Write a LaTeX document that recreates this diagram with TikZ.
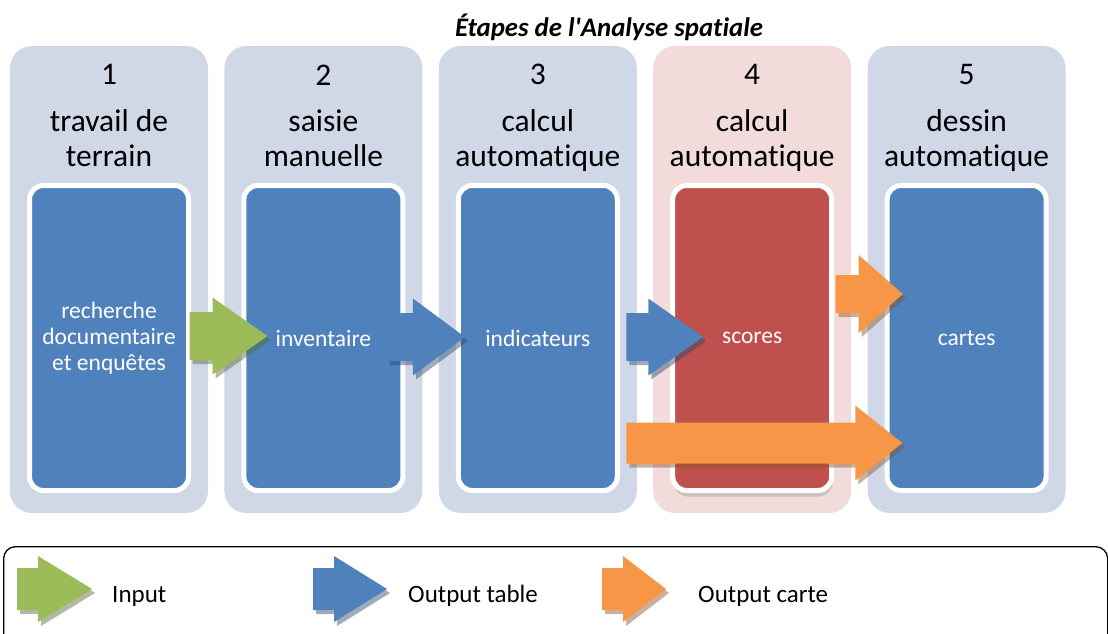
\documentclass[tikz,border=0pt]{standalone}
\usepackage{fontspec}
\setmainfont{Carlito}[Ligatures={TeX,NoCommon}]
\usetikzlibrary{positioning,calc,shadows}

\definecolor{colbg}{HTML}{D0D8E8}
\definecolor{colpink}{HTML}{F2DCDB}
\definecolor{boxblue}{HTML}{4F81BD}
\definecolor{boxred}{HTML}{C0504D}
\definecolor{arrgreen}{HTML}{9BBB59}
\definecolor{arrorange}{HTML}{F79646}

% block arrow: colour, tail, length, half shaft, half head, head length
\newcommand{\blockarr}[6]{%
  \begin{scope}[shift={#2}]
    \fill[#1!55!black, opacity=0.45, shift={(3,4)}] (0,-#4) -- ({#3-#6},-#4) -- ({#3-#6},-#5) -- (#3,0) -- ({#3-#6},#5) -- ({#3-#6},#4) -- (0,#4) -- cycle;
    \fill[#1] (0,-#4) -- ({#3-#6},-#4) -- ({#3-#6},-#5) -- (#3,0) -- ({#3-#6},#5) -- ({#3-#6},#4) -- (0,#4) -- cycle;
  \end{scope}}

\tikzset{
  stepcol/.style={rectangle, rounded corners=22pt, fill=colbg, minimum width=198pt, minimum height=467pt, inner sep=0pt},
  inbox/.style={rectangle, rounded corners=14pt, draw=white, line width=5pt, fill=boxblue, minimum width=159pt, minimum height=305pt, inner sep=0pt, text=white, align=center, font=\fontsize{23.5}{26}\selectfont},
  stepnum/.style={font=\fontsize{31.5}{35}\selectfont, inner sep=0pt},
  steplbl/.style={font=\fontsize{31.5}{35}\selectfont, align=center, inner sep=0pt, anchor=base},
  legtext/.style={font=\fontsize{25}{28}\selectfont, anchor=base west, inner sep=0pt}
}

\begin{document}
\begin{tikzpicture}[x=1pt, y=-1pt]
\useasboundingbox (0,0) rectangle (1108,634);
\node[font=\fontsize{26.8}{30}\selectfont\bfseries\itshape, anchor=base, inner sep=0pt] (title) at (609,37) {Étapes de l\textquotesingle Analyse spatiale};
% the five steps
\node[stepcol] (c1) at (109,279.5) {};
\node[stepcol, right=16pt of c1] (c2) {};
\node[stepcol, right=16pt of c2] (c3) {};
\node[stepcol, right=16pt of c3, fill=colpink] (c4) {};
\node[stepcol, right=16pt of c4] (c5) {};
\foreach \i in {1,...,5}
  \node[stepnum] (n\i) at ($(c\i.north)+(0,29)$) {\i};
\node[steplbl] (t1) at ($(c1.north)+(0,121)$) {travail de\\terrain};
\node[steplbl] (t2) at ($(c2.north)+(0,121)$) {saisie\\manuelle};
\node[steplbl] (t3) at ($(c3.north)+(0,121)$) {calcul\\automatique};
\node[steplbl] (t4) at ($(c4.north)+(0,121)$) {calcul\\automatique};
\node[steplbl] (t5) at ($(c5.north)+(0,121)$) {dessin\\automatique};
\node[inbox] (in1) at ($(c1.center)+(0,58.5)$) {recherche\\documentaire\\et enquêtes};
\node[inbox] (in2) at ($(c2.center)+(0,58.5)$) {inventaire};
\node[inbox] (in3) at ($(c3.center)+(0,58.5)$) {indicateurs};
\node[inbox, fill=boxred, drop shadow={shadow xshift=1pt, shadow yshift=-6pt, opacity=0.3}] (in4) at ($(c4.center)+(0,58.5)$) {scores};
\node[inbox] (in5) at ($(c5.center)+(0,58.5)$) {cartes};
% arrows between steps
\blockarr{arrgreen}{($(in1.east)+(-1.5,-2)$)}{78}{24}{38.5}{55}
\blockarr{boxblue}{($(in2.east)+(-18.5,-1)$)}{78}{24}{38.5}{52}
\blockarr{boxblue}{($(in3.east)+(6.5,-1)$)}{77}{24}{38.5}{55}
\blockarr{arrorange}{($(in4.east)+(1.5,-44)$)}{67}{19}{39}{44}
\blockarr{arrorange}{($(in3.east)+(6.5,105)$)}{276}{20.5}{37.5}{47}
% legend
\node[draw, line width=1.3pt, rounded corners=12pt, minimum width=1104pt, minimum height=120pt, anchor=north west, inner sep=0pt] (legend) at (3,546) {};
\blockarr{arrgreen}{(17,589)}{75}{21}{33}{54}
\blockarr{boxblue}{(313,589)}{74}{21}{33}{53}
\blockarr{arrorange}{(602,589)}{64}{21}{33}{43}
\node[legtext] (lin) at (112,602) {Input};
\node[legtext] (ltab) at (408,602) {Output table};
\node[legtext] (lcarte) at (698,602) {Output carte};
\end{tikzpicture}
\end{document}
